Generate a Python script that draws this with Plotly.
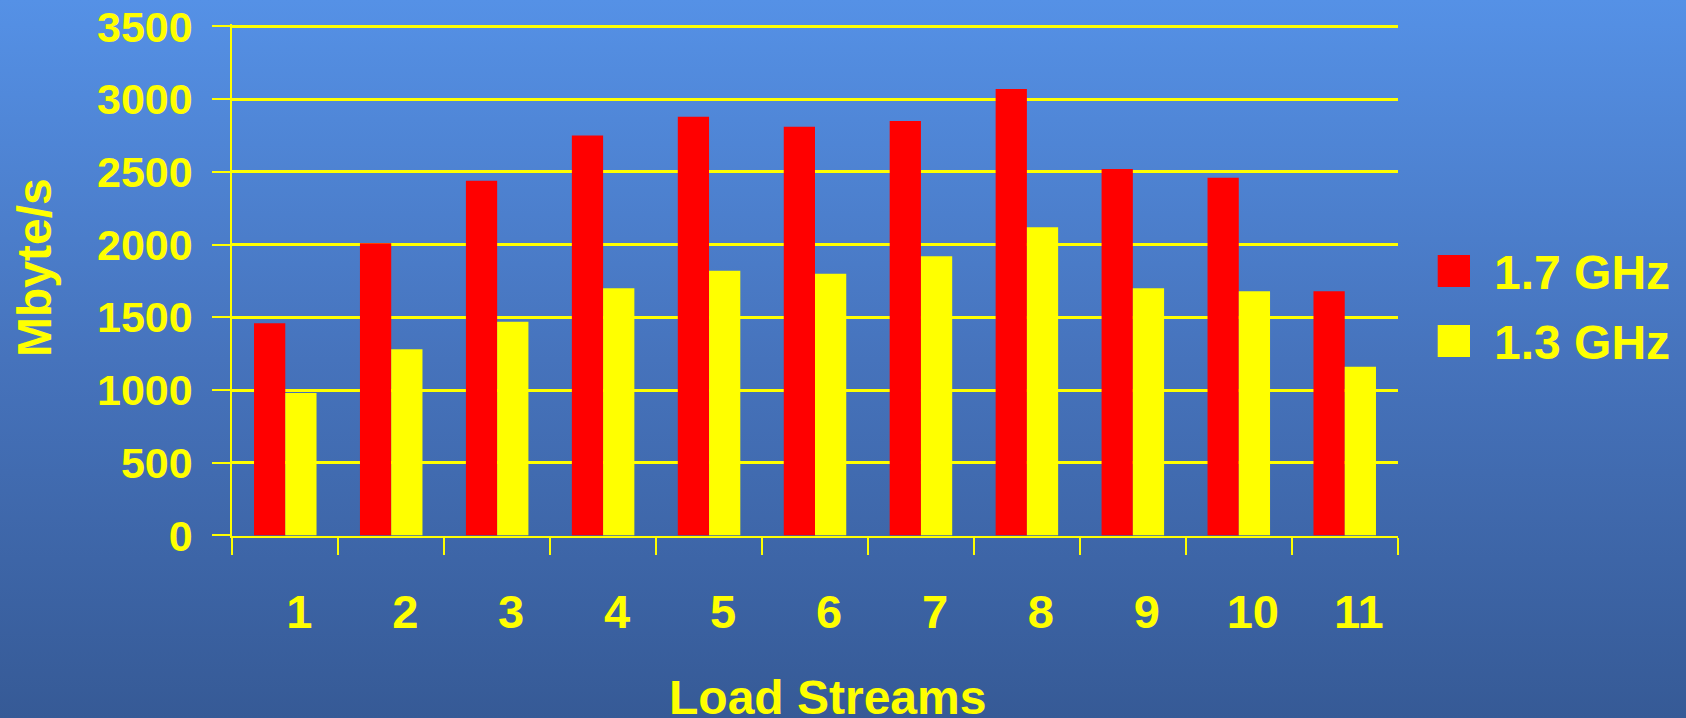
import base64
import plotly.graph_objects as go

# ---- data ----
load_streams = ["1", "2", "3", "4", "5", "6", "7", "8", "9", "10", "11"]
mbps_17ghz = [1460, 2010, 2440, 2750, 2880, 2810, 2850, 3070, 2520, 2460, 1680]
mbps_13ghz = [980, 1280, 1470, 1700, 1820, 1800, 1920, 2120, 1700, 1680, 1160]
series_names = ["1.7 GHz", "1.3 GHz"]
y_ticks = [0, 500, 1000, 1500, 2000, 2500, 3000, 3500]

# ---- styling ----
W, H = 1686, 718
YELLOW = "#FFFF00"
RED = "#FF0000"
FONT = "Liberation Sans, Arial, sans-serif"
series_colors = [RED, YELLOW]
Y_MAX = 3515  # a little headroom so the 3500 gridline is drawn


def px_x(x):
    return x / W


def px_y(y):
    return (H - y) / H


# vertical blue gradient used as the slide background
grad_svg = f"""<svg xmlns='http://www.w3.org/2000/svg' width='{W}' height='{H}'>
<defs><linearGradient id='g' x1='0' y1='0' x2='0' y2='1'>
<stop offset='0' stop-color='#5591E6'/>
<stop offset='0.5' stop-color='#4673BC'/>
<stop offset='1' stop-color='#365A96'/>
</linearGradient></defs>
<rect x='0' y='0' width='{W}' height='{H}' fill='url(#g)'/>
</svg>"""
grad_uri = "data:image/svg+xml;base64," + base64.b64encode(grad_svg.encode()).decode()

fig = go.Figure()
for name, vals, col in zip(series_names, [mbps_17ghz, mbps_13ghz], series_colors):
    fig.add_trace(go.Bar(
        x=load_streams, y=vals, name=name,
        marker=dict(color=col, line=dict(width=0)),
        showlegend=False,
    ))

# pixel rows of the zero line and the 3500 gridline
y0_px, y3500_px = 535.5, 26.5
top_px = y0_px - (y0_px - y3500_px) * Y_MAX / 3500

fig.update_layout(
    template="none",
    width=W, height=H,
    margin=dict(l=0, r=0, t=0, b=0, pad=0, autoexpand=False),
    paper_bgcolor="#4673BC",
    plot_bgcolor="rgba(0,0,0,0)",
    barmode="group",
    bargap=0.41,
    bargroupgap=0,
    images=[dict(
        source=grad_uri, xref="paper", yref="paper",
        x=0, y=1, sizex=1, sizey=1, xanchor="left", yanchor="top",
        sizing="stretch", layer="below",
    )],
    xaxis=dict(
        domain=[px_x(232.3), px_x(1397.7)],
        type="category",
        automargin=False,
        showgrid=False,
        showline=True, linecolor=YELLOW, linewidth=2,
        ticks="outside", tickson="boundaries", ticklen=17, tickwidth=2, tickcolor=YELLOW,
        tickfont=dict(family=FONT, size=47, color=YELLOW, weight="bold"),
        ticklabelshift=14,
        ticklabelstandoff=34,
        zeroline=False,
    ),
    yaxis=dict(
        domain=[px_y(y0_px), px_y(top_px)],
        range=[0, Y_MAX],
        automargin=False,
        tickmode="array", tickvals=y_ticks, ticktext=[str(v) for v in y_ticks],
        showgrid=True, gridcolor=YELLOW, gridwidth=2.5,
        showline=True, linecolor=YELLOW, linewidth=2,
        ticks="outside", ticklen=18, tickwidth=2, tickcolor=YELLOW,
        tickfont=dict(family=FONT, size=43, color=YELLOW, weight="bold"),
        ticklabelstandoff=11,
        zeroline=False,
    ),
)

annotations = [
    dict(text="Load Streams", x=px_x(827), y=px_y(697), xref="paper", yref="paper",
         xanchor="center", yanchor="middle", showarrow=False,
         font=dict(family=FONT, size=48, color=YELLOW, weight="bold")),
    dict(text="Mbyte/s", x=px_x(34), y=px_y(268), xref="paper", yref="paper",
         xanchor="center", yanchor="middle", textangle=-90, showarrow=False,
         font=dict(family=FONT, size=48, color=YELLOW, weight="bold")),
]

# legend: coloured squares with series names
shapes = []
legend_rows = [(255, 287, 272.5), (325, 357, 342.5)]
for (y0, y1, yc), name, col in zip(legend_rows, series_names, series_colors):
    shapes.append(dict(type="rect", xref="paper", yref="paper",
                       x0=px_x(1437.7), x1=px_x(1470), y0=px_y(y1), y1=px_y(y0),
                       fillcolor=col, line=dict(width=0)))
    annotations.append(dict(text=name, x=px_x(1492), y=px_y(yc), xref="paper", yref="paper",
                            xanchor="left", yanchor="middle", showarrow=False,
                            font=dict(family=FONT, size=48, color=YELLOW, weight="bold")))

fig.update_layout(annotations=annotations, shapes=shapes)

fig.write_html("out.html")
